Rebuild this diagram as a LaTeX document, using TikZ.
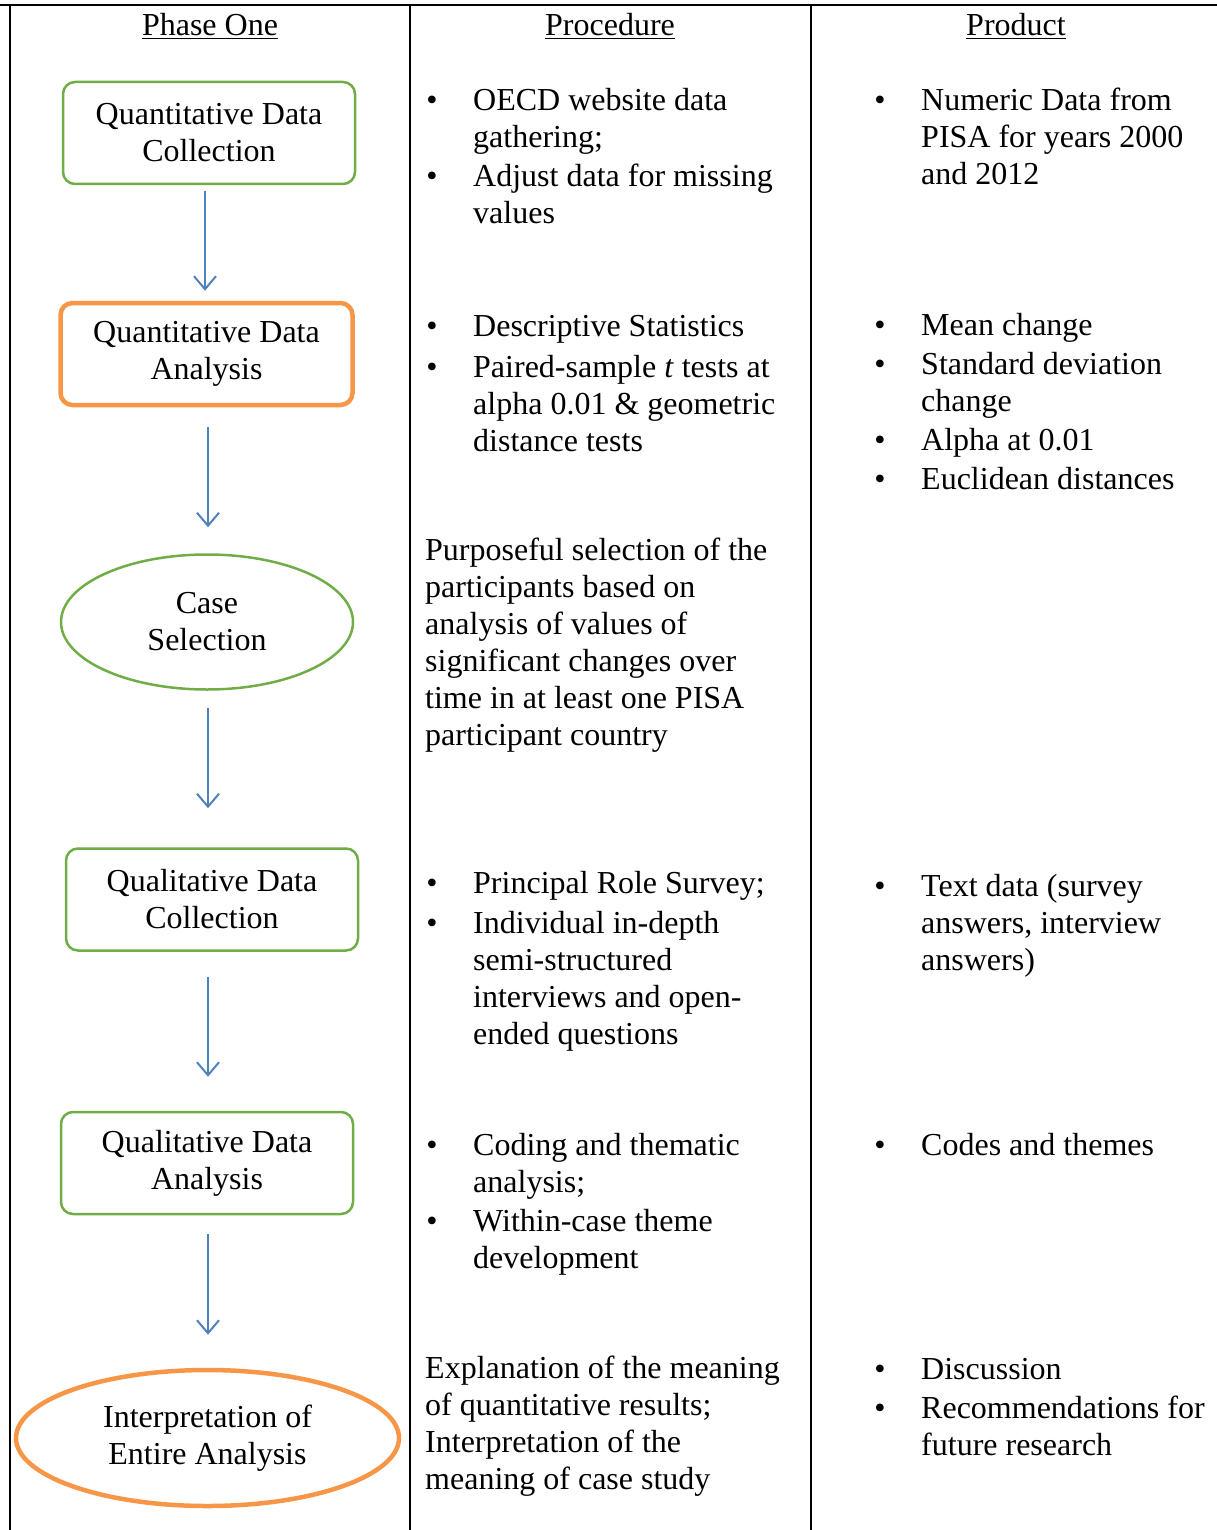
\documentclass[tikz,border=0pt]{standalone}
\usepackage{fontspec}
\setmainfont{Liberation Serif}
\usetikzlibrary{arrows.meta,shapes.geometric,calc}
\definecolor{boxgreen}{HTML}{70AD47}
\definecolor{boxorange}{HTML}{F79646}
\definecolor{arrblue}{HTML}{4F81BD}
\begin{document}
\begin{tikzpicture}[x=1pt,y=-1pt,
  every node/.style={inner sep=0pt, font=\fontsize{32}{37}\selectfont},
  greenbox/.style={draw=boxgreen, line width=2.5pt, rounded corners=12pt, minimum width=292pt, minimum height=102pt, align=center},
  orangebox/.style={draw=boxorange, line width=4.5pt, rounded corners=12pt, minimum width=292pt, minimum height=102pt, align=center},
  greenell/.style={ellipse, draw=boxgreen, line width=2.5pt, minimum width=292pt, minimum height=135pt, align=center},
  orangeell/.style={ellipse, draw=boxorange, line width=4.5pt, minimum width=383pt, minimum height=136pt, align=center},
  flowarr/.style={draw=arrblue, line width=2pt, -{Straight Barb[length=13pt,width=22pt,line width=2pt]}},
  txt/.style={anchor=base west, text width=380pt, align=flush left},
  bul/.style={anchor=base},
  hdr/.style={anchor=base},
  rule/.style={line width=2pt}
]
\useasboundingbox (0,0) rectangle (1217,1530);
% table rules
\draw[rule] (0,5) -- (1217,5);
\draw[rule] (10,5) -- (10,1530);
\draw[rule] (410,5) -- (410,1530);
\draw[rule] (811,5) -- (811,1530);

% headers
\node[hdr] (h1) at (210,36) {\underline{Phase One}};
\node[hdr] (h2) at (610,36) {\underline{Procedure}};
\node[hdr] (h3) at (1016,36) {\underline{Product}};

% flow column
\node[greenbox] (qdc) at (209,133) {Quantitative Data\\Collection};
\node[orangebox] (qda) at (206.5,354) {Quantitative Data\\Analysis};
\node[greenell] (cs) at (207,622) {Case\\Selection};
\node[greenbox] (qlc) at (212,899.5) {Qualitative Data\\Collection};
\node[greenbox] (qla) at (207,1163) {Qualitative Data\\Analysis};
\node[orangeell] (ie) at (207.5,1438) {Interpretation of\\Entire Analysis};

\draw[flowarr] ([xshift=-4pt,yshift=-6pt]qdc.south) -- ([xshift=-1.5pt,yshift=10pt]qda.north);
\draw[flowarr] ([xshift=1.5pt,yshift=-20pt]qda.south) -- ([xshift=1pt,yshift=26pt]cs.north);
\draw[flowarr] ([xshift=1pt,yshift=-17pt]cs.south) -- ([xshift=-4pt,yshift=39pt]qlc.north);
\draw[flowarr] ([xshift=-4pt,yshift=-25pt]qlc.south) -- ([xshift=1pt,yshift=34pt]qla.north);
\draw[flowarr] ([xshift=1pt,yshift=-19pt]qla.south) -- ([xshift=0.5pt,yshift=33pt]ie.north);

% procedure column
\node[bul] (pb1) at (432,111) {•};
\node[txt] (p1) at (473,111) {OECD website data\\gathering;};
\node[bul] (pb2) at (432,187) {•};
\node[txt] (p2) at (473,187) {Adjust data for missing\\values};
\node[bul] (pb3) at (432,336) {•};
\node[txt] (p3) at (473,336) {Descriptive Statistics};
\node[bul] (pb4) at (432,377) {•};
\node[txt] (p4) at (473,377) {Paired-sample \textit{t} tests at\\alpha 0.01 \& geometric\\distance tests};
\node[txt] (p5) at (425,560) {Purposeful selection of the\\participants based on\\analysis of values of\\significant changes over\\time in at least one PISA\\participant country};
\node[bul] (pb6) at (432,893) {•};
\node[txt] (p6) at (473,893) {Principal Role Survey;};
\node[bul] (pb7) at (432,933) {•};
\node[txt] (p7) at (473,933) {Individual in-depth\\semi-structured\\interviews and open-\\ended questions};
\node[bul] (pb8) at (432,1155) {•};
\node[txt] (p8) at (473,1155) {Coding and thematic\\analysis;};
\node[bul] (pb9) at (432,1231) {•};
\node[txt] (p9) at (473,1231) {Within-case theme\\development};
\node[txt] (p10) at (425,1378) {Explanation of the meaning\\of quantitative results;\\Interpretation of the\\meaning of case study};

% product column
\node[bul] (rb1) at (880,111) {•};
\node[txt] (r1) at (921,111) {Numeric Data from\\PISA for years 2000\\and 2012};
\node[bul] (rb2) at (880,335) {•};
\node[txt] (r2) at (921,335) {Mean change};
\node[bul] (rb3) at (880,374) {•};
\node[txt] (r3) at (921,374) {Standard deviation\\change};
\node[bul] (rb4) at (880,450) {•};
\node[txt] (r4) at (921,450) {Alpha at 0.01};
\node[bul] (rb5) at (880,489) {•};
\node[txt] (r5) at (921,489) {Euclidean distances};
\node[bul] (rb6) at (880,896) {•};
\node[txt] (r6) at (921,896) {Text data (survey\\answers, interview\\answers)};
\node[bul] (rb7) at (880,1155) {•};
\node[txt] (r7) at (921,1155) {Codes and themes};
\node[bul] (rb8) at (880,1379) {•};
\node[txt] (r8) at (921,1379) {Discussion};
\node[bul] (rb9) at (880,1418) {•};
\node[txt] (r9) at (921,1418) {Recommendations for\\future research};
\end{tikzpicture}
\end{document}
